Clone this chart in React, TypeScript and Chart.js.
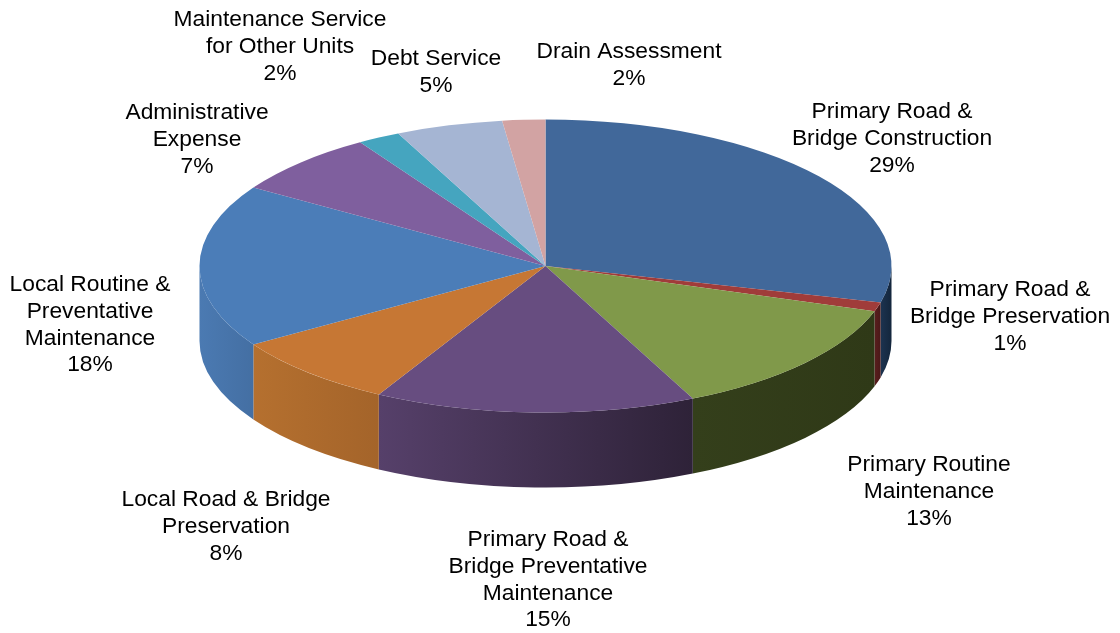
import React, { useEffect, useRef } from "react";
import { Chart, registerables } from "chart.js";

Chart.register(...registerables);

const categories = [
  "Primary Road &\nBridge Construction",
  "Primary Road &\nBridge Preservation",
  "Primary Routine\nMaintenance",
  "Primary Road &\nBridge Preventative\nMaintenance",
  "Local Road & Bridge\nPreservation",
  "Local Routine &\nPreventative\nMaintenance",
  "Administrative\nExpense",
  "Maintenance Service\nfor Other Units",
  "Debt Service",
  "Drain Assessment",
];
const values = [29, 1, 13, 15, 8, 18, 7, 2, 5, 2];
const topColors = ["#41689a", "#a03c3a", "#80994a", "#674d80", "#c67734", "#4b7db8", "#7f5f9e", "#45a5bf", "#a5b5d3", "#d2a3a3"];
const wallLeft = ["#1c3350", "#5a1e1e", "#343f1b", "#56406a", "#b5702f", "#4b7ab2", "#7f5f9e", "#45a5bf", "#a5b5d3", "#d2a3a3"];
const wallRight = ["#14263c", "#4a1818", "#2f3917", "#2e2238", "#a4642a", "#446fa3", "#7f5f9e", "#45a5bf", "#a5b5d3", "#d2a3a3"];
const labelCenters = [
  [892, 112], [1010, 290], [929, 465], [548, 540], [226, 500],
  [90, 285], [197, 113], [280, 20], [436, 59], [629, 52],
];

const SQUASH = 146.5 / 346;
const DEPTH = 75;
const FONT = '22.8px "Liberation Sans", Arial, sans-serif';
const LINE = 26.7;

const pie3d = {
  id: "pie3d",
  beforeDatasetsDraw(chart: any) {
    const ctx = chart.ctx;
    const arcs = chart.getDatasetMeta(0).data;
    arcs.forEach((el: any, i: number) => {
      const a = Math.max(el.startAngle, 0);
      const b = Math.min(el.endAngle, Math.PI);
      if (b <= a) return;
      const rx = el.outerRadius;
      const ry = rx * SQUASH;
      const x0 = el.x + Math.cos(b) * rx;
      const x1 = el.x + Math.cos(a) * rx;
      const g = ctx.createLinearGradient(x0, 0, x1, 0);
      g.addColorStop(0, wallLeft[i]);
      g.addColorStop(1, wallRight[i]);
      ctx.save();
      ctx.beginPath();
      ctx.ellipse(el.x, el.y, rx, ry, 0, a, b, false);
      ctx.ellipse(el.x, el.y + DEPTH, rx, ry, 0, b, a, true);
      ctx.closePath();
      ctx.fillStyle = g;
      ctx.fill();
      ctx.restore();
    });
    const cy = arcs[0].y;
    ctx.save();
    ctx.translate(0, cy);
    ctx.scale(1, SQUASH);
    ctx.translate(0, -cy);
  },
  afterDatasetsDraw(chart: any) {
    const ctx = chart.ctx;
    ctx.restore();
    ctx.save();
    ctx.font = FONT;
    ctx.fillStyle = "#000000";
    ctx.textAlign = "center";
    ctx.textBaseline = "middle";
    categories.forEach((name, i) => {
      const lines = [...name.split("\n"), values[i] + "%"];
      lines.forEach((t, j) => {
        ctx.fillText(t, labelCenters[i][0], labelCenters[i][1] + j * LINE);
      });
    });
    ctx.restore();
  },
};

export default function App() {
  const ref = useRef<HTMLCanvasElement>(null);
  useEffect(() => {
    document.body.style.margin = "0";
    document.body.style.background = "#ffffff";
    const chart = new Chart(ref.current as HTMLCanvasElement, {
      type: "pie",
      data: {
        labels: categories.map((c) => c.replace(/\n/g, " ")),
        datasets: [{ data: values, backgroundColor: topColors, borderWidth: 0, clip: false } as any],
      },
      options: {
        responsive: false,
        animation: false,
        radius: 346,
        layout: { padding: { left: 0, top: 0, right: 29, bottom: 101 } },
        plugins: { legend: { display: false }, tooltip: { enabled: false } },
      } as any,
      plugins: [pie3d],
    });
    return () => chart.destroy();
  }, []);
  return (
    <canvas
      ref={ref}
      width={1120}
      height={633}
      style={{ display: "block", width: 1120, height: 633 }}
    />
  );
}
